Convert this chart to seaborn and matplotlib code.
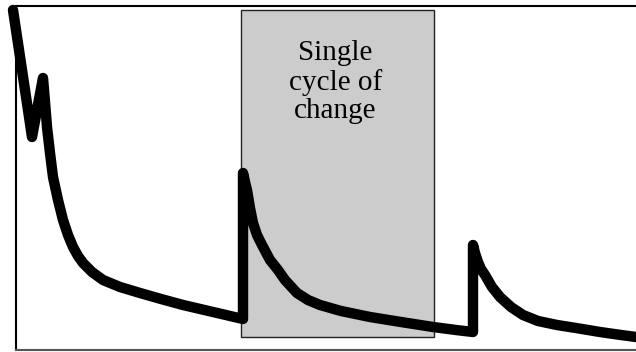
import numpy as np
import pandas as pd
import matplotlib
matplotlib.use("Agg")
import matplotlib.pyplot as plt
from matplotlib.patches import Rectangle
import seaborn as sns

# curve (time, level), in drawing order
time = [-3, 6, 12, 16, 21, 27, 29, 31, 34, 37, 42, 47, 52, 57, 62, 67, 76, 87, 104, 124, 145, 167, 197, 227,
        227, 229, 231, 234, 237, 241, 246, 254, 262, 269, 281, 292, 304, 325, 354, 385, 417, 440, 457,
        457, 459, 462, 465, 469, 476, 484, 495, 507, 522, 541, 560, 584, 605, 620]
level = [340, 280, 240, 213, 240, 272, 248, 223, 197, 173, 150, 130, 115, 103, 94, 87, 78, 70, 63, 57, 51, 45, 38, 31,
         177, 168, 160, 142, 127, 115, 105, 90, 80, 70, 57, 50, 45, 39, 33, 28, 23, 20, 18,
         105, 97, 88, 81, 75, 63, 53, 43, 35, 29, 25, 22, 18, 15, 13]

cycle_start, cycle_end = 225, 418
cycle_low, cycle_high = 13, 340
cycle_label = "Single\ncycle of\nchange"

df = pd.DataFrame({"time": time, "level": level})

sns.set_style("white")
fig = plt.figure(figsize=(6.36, 3.52), dpi=100)
ax = fig.add_axes([16 / 636, 2 / 352, 620 / 636, 344 / 352])

ax.add_patch(Rectangle((cycle_start, cycle_low), cycle_end - cycle_start, cycle_high - cycle_low,
                       facecolor="#cccccc", edgecolor="#222222", linewidth=1.0, zorder=1))
ax.text((cycle_start + cycle_end) / 2 - 2, 268, cycle_label, ha="center", va="center",
        fontsize=21, family="Liberation Serif", linespacing=1.13, color="black", zorder=2)

sns.lineplot(data=df, x="time", y="level", sort=False, estimator=None, color="black",
             linewidth=7.5, ax=ax, zorder=3, clip_on=False)

ax.set_xlim(0, 620)
ax.set_ylim(0, 344)
ax.set_xticks([])
ax.set_yticks([])
ax.set_xlabel("")
ax.set_ylabel("")
ax.spines["right"].set_visible(False)
for side in ["top", "left"]:
    ax.spines[side].set_color("black")
    ax.spines[side].set_linewidth(1.5)
ax.spines["bottom"].set_color("#555555")
ax.spines["bottom"].set_linewidth(1.5)

fig.savefig("out.png", dpi=100)
